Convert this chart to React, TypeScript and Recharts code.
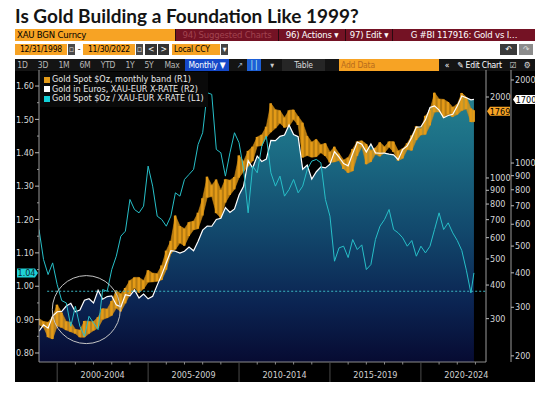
import React from 'react';
import { ComposedChart, Area, Bar, Line, XAxis, YAxis, ReferenceLine, ReferenceDot, Legend } from 'recharts';

// ---------- DATA ----------
const periods = [
  '1998-12',
  '1999-03', '1999-06', '1999-09', '1999-12',
  '2000-03', '2000-06', '2000-09', '2000-12',
  '2001-03', '2001-06', '2001-09', '2001-12',
  '2002-03', '2002-06', '2002-09', '2002-12',
  '2003-03', '2003-06', '2003-09', '2003-12',
  '2004-03', '2004-06', '2004-09', '2004-12',
  '2005-03', '2005-06', '2005-09', '2005-12',
  '2006-03', '2006-06', '2006-09', '2006-12',
  '2007-03', '2007-06', '2007-09', '2007-12',
  '2008-03', '2008-06', '2008-09', '2008-12',
  '2009-03', '2009-06', '2009-09', '2009-12',
  '2010-03', '2010-06', '2010-09', '2010-12',
  '2011-03', '2011-06', '2011-09', '2011-12',
  '2012-03', '2012-06', '2012-09', '2012-12',
  '2013-03', '2013-06', '2013-09', '2013-12',
  '2014-03', '2014-06', '2014-09', '2014-12',
  '2015-03', '2015-06', '2015-09', '2015-12',
  '2016-03', '2016-06', '2016-09', '2016-12',
  '2017-03', '2017-06', '2017-09', '2017-12',
  '2018-03', '2018-06', '2018-09', '2018-12',
  '2019-03', '2019-06', '2019-09', '2019-12',
  '2020-03', '2020-06', '2020-09', '2020-12',
  '2021-03', '2021-06', '2021-09', '2021-12',
  '2022-03', '2022-06', '2022-09', '2022-11',
];

// Gold spot $/oz band (R1): low / high
const goldLow = [
  285,
  279, 256, 252, 282,
  278, 272, 268, 264,
  256, 256, 264, 271,
  277, 298, 302, 308,
  328, 319, 342, 370,
  390, 375, 387, 410,
  411, 413, 418, 456,
  524, 543, 573, 560,
  608, 642, 648, 725,
  846, 853, 740, 712,
  810, 865, 908, 1003,
  1058, 1105, 1157, 1313,
  1319, 1418, 1480, 1531,
  1598, 1540, 1556, 1650,
  1574, 1192, 1212, 1195,
  1200, 1240, 1208, 1142,
  1147, 1162, 1080, 1046,
  1061, 1209, 1306, 1125,
  1148, 1225, 1204, 1241,
  1302, 1250, 1160, 1182,
  1276, 1266, 1383, 1445,
  1451, 1568, 1757, 1764,
  1677, 1723, 1688, 1722,
  1780, 1805, 1615, 1617,
];
const goldHigh = [
  300,
  293, 291, 305, 338,
  316, 293, 291, 274,
  272, 294, 293, 293,
  304, 327, 326, 349,
  382, 371, 390, 416,
  427, 427, 416, 454,
  443, 441, 473, 537,
  584, 725, 663, 648,
  685, 691, 743, 841,
  1011, 940, 987, 903,
  989, 981, 1009, 1213,
  1153, 1261, 1307, 1421,
  1447, 1552, 1895, 1795,
  1781, 1677, 1784, 1792,
  1694, 1605, 1433, 1360,
  1392, 1330, 1345, 1250,
  1307, 1232, 1167, 1191,
  1282, 1366, 1375, 1338,
  1264, 1294, 1357, 1307,
  1366, 1365, 1262, 1285,
  1346, 1439, 1557, 1525,
  1703, 1789, 2075, 1966,
  1959, 1916, 1834, 1877,
  2070, 1998, 1814, 1786,
];

// Gold in euros (R2)
const goldEur = [
  246,
  259, 252, 279, 289,
  290, 303, 310, 289,
  293, 318, 322, 311,
  346, 321, 328, 330,
  306, 301, 333, 330,
  347, 324, 335, 322,
  329, 361, 394, 435,
  481, 479, 472, 479,
  496, 481, 521, 571,
  591, 590, 624, 631,
  689, 662, 682, 766,
  824, 1020, 961, 1060,
  1013, 1034, 1209, 1205,
  1250, 1263, 1374, 1269,
  1246, 950, 983, 874,
  930, 969, 960, 991,
  1100, 1051, 996, 977,
  1082, 1191, 1171, 1097,
  1173, 1089, 1085, 1086,
  1077, 1071, 1028, 1120,
  1154, 1239, 1350, 1354,
  1434, 1590, 1612, 1556,
  1460, 1487, 1503, 1609,
  1750, 1724, 1694, 1701,
];

// Gold $ / Gold EUR (L1)
const goldRatio = [
  1.17,
  1.08, 1.035, 1.07, 1.005,
  0.957, 0.95, 0.88, 0.94,
  0.88, 0.85, 0.91, 0.89,
  0.87, 0.99, 0.985, 1.05,
  1.09, 1.15, 1.165, 1.26,
  1.23, 1.22, 1.24, 1.36,
  1.30, 1.21, 1.20, 1.18,
  1.21, 1.28, 1.27, 1.32,
  1.335, 1.35, 1.425, 1.46,
  1.58, 1.575, 1.41, 1.40,
  1.33, 1.40, 1.46, 1.43,
  1.35, 1.22, 1.36, 1.34,
  1.42, 1.45, 1.34, 1.30,
  1.33, 1.27, 1.29, 1.32,
  1.28, 1.30, 1.35, 1.375,
  1.38, 1.37, 1.26, 1.21,
  1.075, 1.115, 1.12, 1.086,
  1.14, 1.11, 1.124, 1.05,
  1.065, 1.14, 1.18, 1.20,
  1.23, 1.17, 1.16, 1.145,
  1.12, 1.137, 1.09, 1.12,
  1.10, 1.12, 1.17, 1.22,
  1.17, 1.19, 1.16, 1.137,
  1.107, 1.048, 0.98, 1.04,
];

const seriesNames = [
  'Gold Spot $Oz, monthly band (R1)',
  'Gold in Euros, XAU-EUR X-RATE  (R2)',
  'Gold Spot $Oz / XAU-EUR X-RATE (L1)',
];
const bandLabels = ['2000-2004', '2005-2009', '2010-2014', '2015-2019', '2020-2024'];
const bandStartYears = [2000, 2005, 2010, 2015, 2020];
const minorYears = [2000, 2001, 2002, 2003, 2004, 2005, 2006, 2007, 2008, 2009, 2010, 2011, 2012, 2013, 2014, 2015, 2016, 2017, 2018, 2019, 2020, 2021, 2022, 2023];
const leftTicks = [0.8, 0.85, 0.9, 0.95, 1.0, 1.05, 1.1, 1.15, 1.2, 1.25, 1.3, 1.35, 1.4, 1.45, 1.5, 1.55, 1.6];
const r1Ticks = [300, 400, 500, 600, 700, 800, 900, 1000, 2000];
const r2Ticks = [200, 300, 400, 500, 600, 700, 800, 900, 1000, 2000];
const lastRatio = 1.04;
const lastGoldUsd = 1769;
const lastGoldEur = 1700;
const lowRatioLevel = 0.985;

// ---------- STYLE ----------
const NARROW = "'Liberation Sans Narrow', 'DejaVu Sans Condensed', 'Arial Narrow', sans-serif";
const ORANGE = '#e49b17';
const CYAN = '#27bfc8';
const AMBER = '#f7a324';
const MAROON = '#741224';

const parseT = (p: string) => {
  const [y, m] = p.split('-').map(Number);
  return y + m / 12;
};

const data = periods.map((p, i) => ({
  t: parseT(p),
  band: [goldLow[i], goldHigh[i]],
  eur: goldEur[i],
  ratio: goldRatio[i],
}));

const bandLabelPos = new Map<number, string>();
bandStartYears.forEach((y, i) => bandLabelPos.set(y + 2.5, bandLabels[i]));
const xTicks = [...minorYears, ...bandStartYears.map((y) => y + 2.5)].sort((a, b) => a - b);

const XTick = (props: any) => {
  const { x, y, payload } = props;
  const v = payload.value;
  const label = bandLabelPos.get(v);
  if (label) {
    return (
      <text x={x} y={y + 16} textAnchor="middle" fill="#d0d0d0" fontSize={9} fontFamily={NARROW}>
        {label}
      </text>
    );
  }
  if (v % 5 === 0) return <line x1={x} x2={x} y1={y} y2={y + 20} stroke="#4a4a4a" strokeWidth={1} />;
  return <line x1={x} x2={x} y1={y} y2={y + 2.5} stroke="#8a8a8a" strokeWidth={1} />;
};

const LeftTick = (props: any) => {
  const { x, y, payload } = props;
  const v = payload.value;
  const major = Math.abs(v * 10 - Math.round(v * 10)) < 1e-6;
  if (!major) return <line x1={x - 2} x2={x} y1={y} y2={y} stroke="#9a9a9a" />;
  return (
    <g>
      <line x1={x - 4} x2={x} y1={y} y2={y} stroke="#bdbdbd" />
      <text x={x - 5} y={y + 3.2} textAnchor="end" fill="#d6d6d6" fontSize={9} fontFamily={NARROW}>
        {v.toFixed(2)}
      </text>
    </g>
  );
};

const RightTick = (props: any) => {
  const { x, y, payload } = props;
  return (
    <g>
      <line x1={x} x2={x + 3} y1={y} y2={y} stroke="#bdbdbd" />
      <text x={x + 4} y={y + 3.2} textAnchor="start" fill="#d6d6d6" fontSize={9} fontFamily={NARROW}>
        {payload.value}
      </text>
    </g>
  );
};

const leftTag = (text: string, bg: string, fg: string) => (props: any) => {
  const vb = props.viewBox || {};
  const y = vb.y;
  const right = vb.x - 1;
  const left = vb.x - 22;
  const h = 9;
  return (
    <g>
      <path d={`M${left},${y - h / 2} L${right - 3},${y - h / 2} L${right},${y} L${right - 3},${y + h / 2} L${left},${y + h / 2} Z`} fill={bg} />
      <text x={(left + right - 3) / 2 + 0.5} y={y + 3.2} textAnchor="middle" fill={fg} fontSize={9} fontFamily={NARROW}>
        {text}
      </text>
    </g>
  );
};

const rightTag = (text: string, bg: string, fg: string, off: number) => (props: any) => {
  const vb = props.viewBox || {};
  const y = vb.y;
  const left = vb.x + vb.width + off;
  const right = left + 23;
  const h = 9;
  return (
    <g>
      <path d={`M${left},${y} L${left + 3},${y - h / 2} L${right},${y - h / 2} L${right},${y + h / 2} L${left + 3},${y + h / 2} Z`} fill={bg} />
      <text x={(left + 3 + right) / 2} y={y + 3.2} textAnchor="middle" fill={fg} fontSize={9} fontFamily={NARROW}>
        {text}
      </text>
    </g>
  );
};

const legendColors = [ORANGE, '#ffffff', '#12d0d8'];
const LegendBox = () => (
  <div
    style={{
      background: '#0a0a0a',
      padding: '3px 4px 3px 4px',
      fontFamily: NARROW,
      fontSize: 9,
      color: '#e8e8e8',
      lineHeight: '9.6px',
      whiteSpace: 'nowrap',
    }}
  >
    {seriesNames.map((n, i) => (
      <div key={n} style={{ display: 'flex', alignItems: 'center' }}>
        <span style={{ display: 'inline-block', width: 6, height: 6, background: legendColors[i], marginRight: 2 }} />
        {n}
      </div>
    ))}
  </div>
);

// ---------- TOOLBAR ----------
type Box = { x: number; w: number; bg?: string; color: string; text: string; align?: 'left' | 'center' };
const row1: Box[] = [
  { x: 15, w: 160, bg: AMBER, color: '#000', text: 'XAU BGN Curncy', align: 'left' },
  { x: 176, w: 102, bg: MAROON, color: '#a2434f', text: '94) Suggested Charts' },
  { x: 279, w: 66, bg: MAROON, color: '#fff', text: '96) Actions \u25BE' },
  { x: 346, w: 46, bg: MAROON, color: '#fff', text: '97) Edit \u25BE' },
  { x: 393, w: 142, bg: MAROON, color: '#fff', text: 'G #BI 117916: Gold vs I\u2026' },
];
const row2: Box[] = [
  { x: 15, w: 52, bg: AMBER, color: '#000', text: '12/31/1998' },
  { x: 68, w: 7, bg: '#4a4a4a', color: '#ddd', text: '\u25AB' },
  { x: 75, w: 8, color: '#000', text: '-' },
  { x: 83, w: 52, bg: AMBER, color: '#000', text: '11/30/2022' },
  { x: 136, w: 7, bg: '#4a4a4a', color: '#ddd', text: '\u25AB' },
  { x: 145, w: 12, bg: '#333', color: '#fff', text: '<' },
  { x: 158, w: 11, bg: '#333', color: '#fff', text: '>' },
  { x: 172, w: 48, bg: AMBER, color: '#000', text: 'Local CCY', align: 'left' },
  { x: 221, w: 7, bg: '#444', color: '#fff', text: '\u25BE' },
  { x: 500, w: 17, bg: '#3a3a3a', color: '#fff', text: '\u21B6' },
  { x: 519, w: 14, bg: '#8c8c8c', color: '#ddd', text: '\u21B7' },
];
const row3: Box[] = [
  { x: 16, w: 13, color: '#b8b8b8', text: '1D' },
  { x: 36, w: 14, color: '#b8b8b8', text: '3D' },
  { x: 57, w: 14, color: '#b8b8b8', text: '1M' },
  { x: 78, w: 14, color: '#b8b8b8', text: '6M' },
  { x: 99, w: 18, color: '#b8b8b8', text: 'YTD' },
  { x: 123, w: 14, color: '#b8b8b8', text: '1Y' },
  { x: 142, w: 14, color: '#b8b8b8', text: '5Y' },
  { x: 163, w: 18, color: '#b8b8b8', text: 'Max' },
  { x: 185, w: 44, bg: '#1549c9', color: '#fff', text: 'Monthly \u25BC' },
  { x: 234, w: 11, color: '#9ab', text: '\u2197' },
  { x: 247, w: 14, bg: '#1d5fd6', color: '#cfe', text: '\u2502\u2502' },
  { x: 267, w: 10, color: '#ccc', text: '\u25BE' },
  { x: 282, w: 43, bg: '#262626', color: '#d8d8d8', text: 'Table' },
  { x: 339, w: 100, bg: AMBER, color: '#b86c1c', text: 'Add Data', align: 'left' },
  { x: 442, w: 10, color: '#fff', text: '\u00AB' },
  { x: 452, w: 55, color: '#fff', text: '\u270E Edit Chart' },
  { x: 508, w: 10, color: '#ddd', text: '\u2611' },
  { x: 521, w: 12, color: '#ddd', text: '\u2699' },
];

const renderRow = (boxes: Box[], top: number, h: number, fs: number) =>
  boxes.map((b, i) => (
    <div
      key={i}
      style={{
        position: 'absolute',
        left: b.x,
        top,
        width: b.w,
        height: h,
        background: b.bg || 'transparent',
        color: b.color,
        fontFamily: NARROW,
        fontSize: fs,
        lineHeight: `${h}px`,
        textAlign: b.align || 'center',
        paddingLeft: b.align === 'left' ? 2 : 0,
        boxSizing: 'border-box',
        whiteSpace: 'nowrap',
        overflow: 'hidden',
        letterSpacing: -0.2,
      }}
    >
      {b.text}
    </div>
  ));

export default function App() {
  return (
    <div style={{ position: 'absolute', left: 0, top: 0, width: 542, height: 395, background: '#fff', overflow: 'hidden' }}>
      <div
        style={{
          position: 'absolute',
          left: 15,
          top: 6,
          fontFamily: 'Lato, sans-serif',
          fontWeight: 700,
          fontSize: 19,
          lineHeight: '19px',
          color: '#141414',
          whiteSpace: 'nowrap',
        }}
      >
        Is Gold Building a Foundation Like 1999?
      </div>
      <div style={{ position: 'absolute', left: 175, top: 29, width: 360, height: 12, background: '#2a0a10' }} />
      {renderRow(row1, 29, 12, 9.5)}
      {renderRow(row2, 44, 11, 8.5)}
      <div style={{ position: 'absolute', left: 15, top: 59, width: 520, height: 323, background: '#000' }} />
      <div style={{ position: 'absolute', left: 15, top: 59, width: 520, height: 12, background: '#141414' }} />
      {renderRow(row3, 59, 12, 8.5)}
      <div style={{ position: 'absolute', left: 16, top: 70 }}>
        <ComposedChart width={519} height={312} data={data} margin={{ top: 0, right: 0, bottom: 0, left: 0 }}>
          <defs>
            <linearGradient id="eurFill" x1="0" y1="0" x2="0" y2="1">
              <stop offset="0%" stopColor="#25808f" />
              <stop offset="18%" stopColor="#1c6f86" />
              <stop offset="50%" stopColor="#12496d" />
              <stop offset="78%" stopColor="#0b2452" />
              <stop offset="100%" stopColor="#070b32" />
            </linearGradient>
          </defs>
          <XAxis
            dataKey="t"
            type="number"
            domain={[1999, 2023.58]}
            allowDataOverflow
            ticks={xTicks}
            interval={0}
            tick={<XTick />}
            tickLine={false}
            tickSize={0}
            tickMargin={0}
            axisLine={{ stroke: '#8c8c8c' }}
            height={20}
          />
          <YAxis
            yAxisId="L1"
            orientation="left"
            type="number"
            domain={[0.773, 1.648]}
            allowDataOverflow
            ticks={leftTicks}
            interval={0}
            tick={<LeftTick />}
            tickLine={false}
            tickSize={0}
            tickMargin={0}
            width={23}
            axisLine={{ stroke: '#9a9a9a' }}
          />
          <YAxis
            yAxisId="R1"
            orientation="right"
            type="number"
            scale="log"
            domain={[207, 2520]}
            allowDataOverflow
            ticks={r1Ticks}
            interval={0}
            tick={<RightTick />}
            tickLine={false}
            tickSize={0}
            tickMargin={0}
            width={25}
            axisLine={{ stroke: '#9a9a9a' }}
          />
          <YAxis
            yAxisId="R2"
            orientation="right"
            type="number"
            scale="log"
            domain={[190, 2174]}
            allowDataOverflow
            ticks={r2Ticks}
            interval={0}
            tick={<RightTick />}
            tickLine={false}
            tickSize={0}
            tickMargin={0}
            width={24}
            axisLine={{ stroke: '#9a9a9a' }}
          />
          <Legend
            layout="vertical"
            align="center"
            verticalAlign="middle"
            content={<LegendBox />}
            wrapperStyle={{ position: 'absolute', left: 24, top: 2, width: 'auto', height: 'auto' }}
          />
          <Area
            yAxisId="R2"
            dataKey="eur"
            type="linear"
            stroke="none"
            fill="url(#eurFill)"
            fillOpacity={1}
            isAnimationActive={false}
            name={seriesNames[1] + ' fill'}
            legendType="none"
          />
          <Area
            yAxisId="R1"
            dataKey="band"
            type="linear"
            stroke="#c98510"
            strokeWidth={0.6}
            fill={ORANGE}
            fillOpacity={0.8}
            isAnimationActive={false}
            name={seriesNames[0] + ' range'}
            legendType="none"
          />
          <Bar yAxisId="R1" dataKey="band" fill={ORANGE} barSize={2.5} isAnimationActive={false} name={seriesNames[0]} />
          <Line yAxisId="R2" dataKey="eur" type="linear" stroke="#ffffff" strokeWidth={1.2} dot={false} isAnimationActive={false} name={seriesNames[1]} />
          <Line yAxisId="L1" dataKey="ratio" type="linear" stroke={CYAN} strokeWidth={1} dot={false} isAnimationActive={false} name={seriesNames[2]} />
          <ReferenceLine
            yAxisId="L1"
            segment={[{ x: 1999.45, y: lowRatioLevel }, { x: 2023.58, y: lowRatioLevel }]}
            stroke="#3ab7c2"
            strokeDasharray="2 2"
          />
          <ReferenceDot yAxisId="L1" x={2001.6} y={0.93} r={34} fill="none" stroke="#c4c4c4" strokeWidth={1} />
          <ReferenceLine yAxisId="L1" y={lastRatio} stroke="none" label={leftTag(lastRatio.toFixed(2), '#1fd0d6', '#0a2a30')} />
          <ReferenceLine yAxisId="R1" y={lastGoldUsd} stroke="none" label={rightTag(String(lastGoldUsd), AMBER, '#000', 1)} />
          <ReferenceLine yAxisId="R2" y={lastGoldEur} stroke="none" label={rightTag(String(lastGoldEur), '#ffffff', '#000', 27)} />
        </ComposedChart>
      </div>
    </div>
  );
}
